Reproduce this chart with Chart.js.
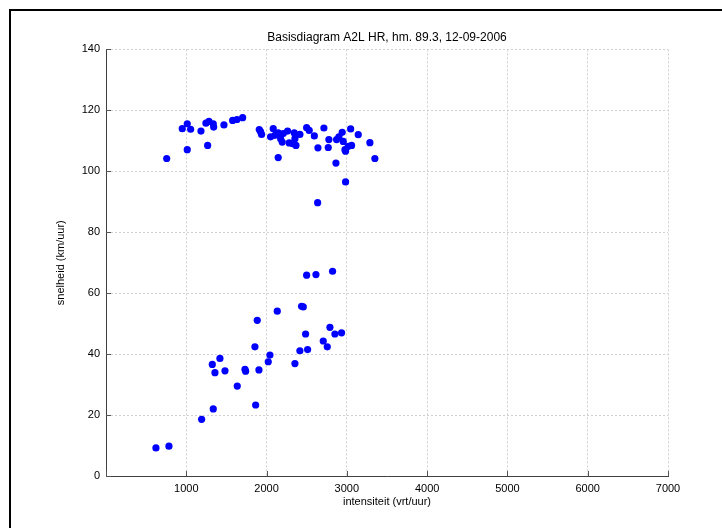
<!DOCTYPE html>
<html>
<head>
<meta charset="utf-8">
<script src="https://cdn.jsdelivr.net/npm/chart.js@4/dist/chart.umd.min.js"></script>
<style>
  html, body { margin: 0; padding: 0; background: #ffffff; }
  #wrap { position: relative; width: 722px; height: 528px; overflow: hidden; }
  #frame { position: absolute; left: 9px; top: 9px; width: 760px; height: 600px;
           border-left: 2px solid #000; border-top: 2px solid #000; box-sizing: border-box; }
  canvas { position: absolute; left: 0; top: 0; }
</style>
</head>
<body>
<div id="wrap">
  <div id="frame"></div>
  <canvas id="c" width="722" height="528"></canvas>
</div>
<script>
const titleText = "Basisdiagram A2L HR, hm. 89.3, 12-09-2006";
const xLabel = "intensiteit (vrt/uur)";
const yLabel = "snelheid (km/uur)";

const xTicks = [0, 1000, 2000, 3000, 4000, 5000, 6000, 7000];
const yTicks = [0, 20, 40, 60, 80, 100, 120, 140];

// intensiteit (vrt/uur)
const intensiteit = [
  756, 950, 1012, 1054, 1012, 1183, 1245, 1282, 1266, 1336, 1341, 1469, 1577, 1631, 1702,
  1909, 1938, 1925, 2083, 2050, 2104, 2145, 2175, 2208, 2195, 2262, 2282, 2324, 2345, 2353,
  2366, 2415, 2499, 2531, 2595, 2640, 2145, 2714, 2776, 2768, 2872, 2901, 2942, 2955, 2976,
  2984, 3017, 3047, 3059, 3142, 3287, 3349, 2864, 2984, 2636,
  2499, 2615, 2822, 2436, 2457, 2133, 1884, 2486, 2789, 2851, 2934, 2706, 2756, 1855, 2042,
  2021, 2415, 2511, 2353, 1419, 1324, 1357, 1482, 1731, 1739, 1905, 1635, 1864, 1336, 1191,
  622, 784
];
// snelheid (km/uur)
const snelheid = [
  104.2, 114.0, 115.6, 113.8, 107.1, 113.2, 115.8, 116.4, 108.5, 115.6, 114.5, 115.2, 116.7, 117.0, 117.6,
  113.7, 112.1, 113.0, 114.0, 111.3, 111.8, 112.6, 110.7, 112.4, 109.6, 113.2, 109.3, 109.1, 112.6, 110.7,
  108.5, 112.1, 114.3, 113.4, 111.6, 107.7, 104.5, 114.2, 110.4, 107.8, 110.4, 111.3, 112.8, 109.8, 107.1,
  106.6, 108.2, 113.9, 108.5, 112.0, 109.4, 104.2, 102.7, 96.5, 89.7,
  65.9, 66.1, 67.2, 55.7, 55.5, 54.1, 51.1, 46.6, 48.8, 46.6, 47.0, 44.3, 42.4, 42.4, 39.7,
  37.5, 41.1, 41.5, 36.9, 38.6, 36.6, 33.9, 34.5, 35.0, 34.4, 34.8, 29.5, 23.3, 22.0, 18.6,
  9.2, 9.8
];

const points = intensiteit.map((x, i) => ({ x: x, y: snelheid[i] }));

const FONT = "'Liberation Sans', Arial, Helvetica, sans-serif";

const inwardTicks = {
  id: 'inwardTicks',
  afterDraw(chart) {
    const ctx = chart.ctx;
    const xs = chart.scales.x, ys = chart.scales.y;
    const a = chart.chartArea;
    ctx.save();
    ctx.strokeStyle = '#555555';
    ctx.lineWidth = 1;
    ctx.beginPath();
    xTicks.forEach(v => {
      const px = Math.round(xs.getPixelForValue(v)) + 0.5;
      ctx.moveTo(px, a.bottom); ctx.lineTo(px, a.bottom - 5);
    });
    yTicks.forEach(v => {
      const py = Math.round(ys.getPixelForValue(v)) + 0.5;
      ctx.moveTo(a.left, py); ctx.lineTo(a.left + 5, py);
    });
    ctx.stroke();
    ctx.restore();
  }
};

new Chart(document.getElementById('c'), {
  type: 'scatter',
  data: {
    datasets: [{
      data: points,
      backgroundColor: '#0000ff',
      borderWidth: 0,
      pointRadius: 3.6,
      pointHoverRadius: 3.6
    }]
  },
  options: {
    responsive: false,
    animation: false,
    events: [],
    layout: { padding: { left: 0, right: 54, top: 0, bottom: 0 } },
    plugins: {
      legend: { display: false },
      tooltip: { enabled: false },
      title: {
        display: true,
        fullSize: false,
        text: titleText,
        color: '#000000',
        font: { family: FONT, size: 12, weight: 'normal' },
        padding: { top: 30, bottom: 5 }
      }
    },
    scales: {
      x: {
        type: 'linear',
        min: 0, max: 7000,
        afterBuildTicks(scale) { scale.ticks = xTicks.map(v => ({ value: v })); },
        afterFit(scale) { scale.height = 52; },
        ticks: {
          color: '#000000',
          font: { family: FONT, size: 11 },
          padding: 6,
          maxRotation: 0,
          callback: v => (v === 0 ? '' : String(v))
        },
        grid: { color: '#d0d0d0', drawTicks: false, lineWidth: 1 },
        border: { display: true, color: '#404040', width: 1, dash: [2, 2] },
        title: {
          display: true, text: xLabel, color: '#000000',
          font: { family: FONT, size: 11 },
          padding: { top: 0, bottom: 19 }
        }
      },
      y: {
        type: 'linear',
        min: 0, max: 140,
        afterBuildTicks(scale) { scale.ticks = yTicks.map(v => ({ value: v })); },
        afterFit(scale) { scale.width = 106; },
        ticks: {
          color: '#000000',
          font: { family: FONT, size: 11 },
          padding: 6
        },
        grid: { color: '#d0d0d0', drawTicks: false, lineWidth: 1 },
        border: { display: true, color: '#404040', width: 1, dash: [2, 2] },
        title: {
          display: true, text: yLabel, color: '#000000',
          font: { family: FONT, size: 11 },
          padding: { top: 54, bottom: 0 }
        }
      }
    }
  },
  plugins: [inwardTicks]
});
</script>
</body>
</html>
